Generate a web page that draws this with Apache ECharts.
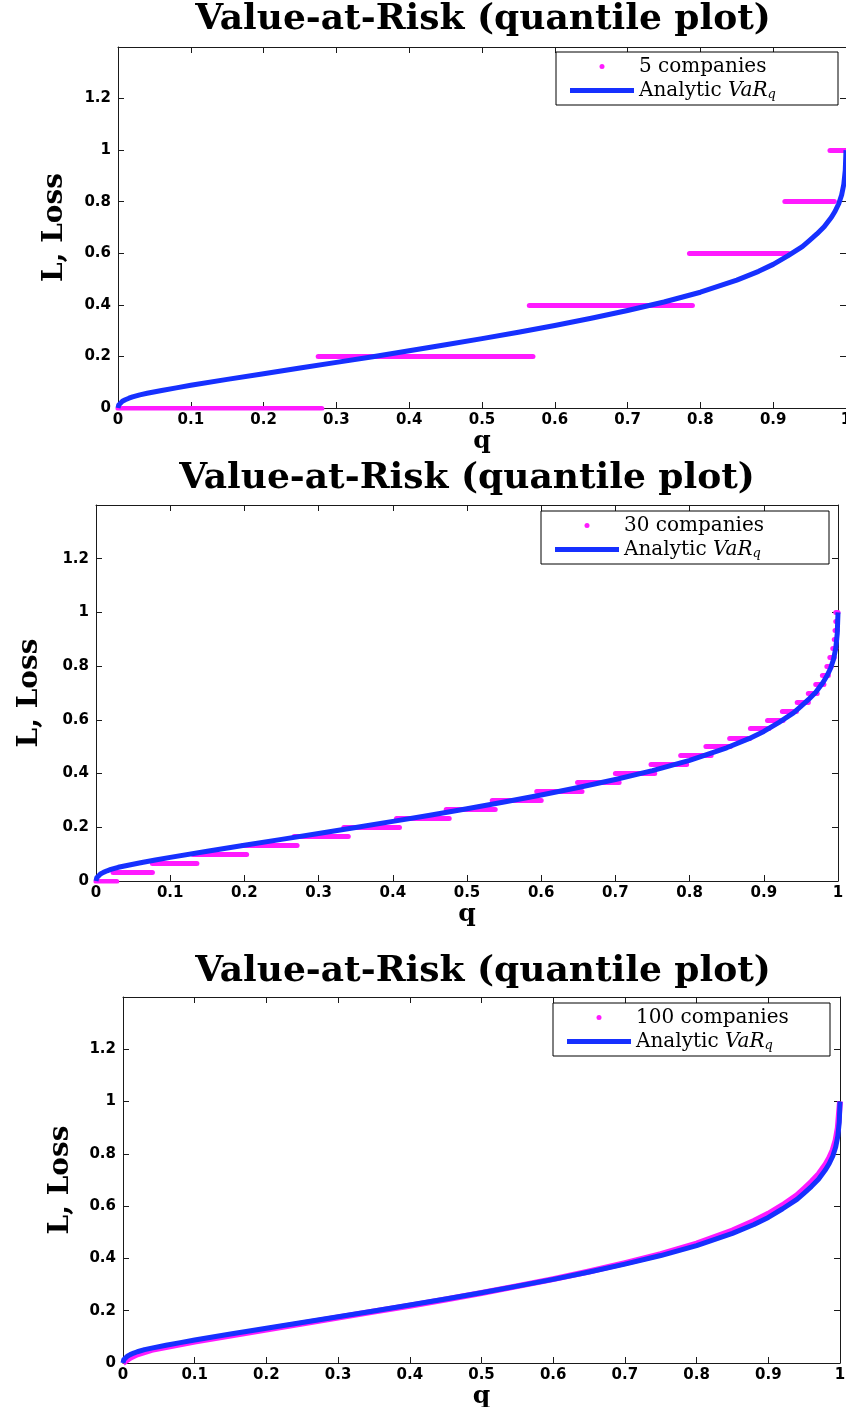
<!DOCTYPE html>
<html>
<head>
<meta charset="utf-8">
<script src="https://cdn.jsdelivr.net/npm/echarts@6/dist/echarts.min.js"></script>
<style>
html,body{margin:0;padding:0;background:#ffffff;overflow:hidden;}
#chart{width:846px;height:1407px;}
</style>
</head>
<body>
<div id="chart"></div>
<script>
// ---------- data ----------
const titleText = 'Value-at-Risk (quantile plot)';
const xName = 'q';
const yName = 'L, Loss';
const companyNames = ['5 companies', '30 companies', '100 companies'];
const analyticName = 'Analytic';

// analytic VaR_q curve (q, L)
const varQ = [0, 0.001, 0.003, 0.006, 0.01, 0.015, 0.02, 0.03, 0.04, 0.06, 0.08, 0.1, 0.15, 0.2, 0.25, 0.3, 0.35, 0.4, 0.45, 0.5, 0.55, 0.6, 0.65, 0.7, 0.75, 0.8, 0.85, 0.88, 0.9, 0.92, 0.94, 0.95, 0.96, 0.97, 0.98, 0.985, 0.99, 0.994, 0.997, 0.999, 1];
const varL = [0, 0.012, 0.019, 0.026, 0.032, 0.038, 0.043, 0.051, 0.057, 0.068, 0.078, 0.088, 0.111, 0.133, 0.155, 0.177, 0.199, 0.222, 0.245, 0.269, 0.294, 0.32, 0.348, 0.378, 0.411, 0.449, 0.496, 0.53, 0.557, 0.59, 0.626, 0.65, 0.675, 0.703, 0.74, 0.763, 0.792, 0.826, 0.868, 0.922, 1.0];

// 5 companies: empirical quantile steps
const levels5 = [0, 0.2, 0.4, 0.6, 0.8, 1.0];
const qStart5 = [0, 0.275, 0.565, 0.785, 0.916, 0.978];
const qEnd5   = [0.28, 0.57, 0.789, 0.921, 0.984, 1.0];

// 30 companies: empirical quantile steps
const levels30 = [0, 0.033, 0.067, 0.1, 0.133, 0.167, 0.2, 0.233, 0.267, 0.3, 0.333, 0.367, 0.4, 0.433, 0.467, 0.5, 0.533, 0.567, 0.6, 0.633, 0.667, 0.7, 0.733, 0.767, 0.8, 0.833, 0.867, 0.9, 0.933, 0.967, 1.0];
const qStart30 = [0, 0.023, 0.076, 0.131, 0.198, 0.267, 0.334, 0.405, 0.472, 0.534, 0.594, 0.649, 0.700, 0.748, 0.788, 0.822, 0.854, 0.882, 0.905, 0.925, 0.945, 0.960, 0.970, 0.979, 0.985, 0.989, 0.993, 0.995, 0.996, 0.997, 0.997];
const qEnd30   = [0.028, 0.076, 0.136, 0.203, 0.271, 0.340, 0.409, 0.476, 0.538, 0.600, 0.655, 0.705, 0.753, 0.796, 0.829, 0.855, 0.881, 0.907, 0.926, 0.944, 0.960, 0.972, 0.981, 0.987, 0.991, 0.995, 0.997, 0.998, 0.999, 0.999, 1.0];

// 100 companies: empirical quantile (fine steps, hugging the curve)
const q100 = [0, 0.005, 0.01, 0.02, 0.04, 0.06, 0.1, 0.15, 0.2, 0.25, 0.3, 0.35, 0.4, 0.45, 0.5, 0.55, 0.6, 0.65, 0.7, 0.75, 0.8, 0.85, 0.88, 0.9, 0.92, 0.94, 0.95, 0.96, 0.97, 0.98, 0.985, 0.99, 0.994, 0.997, 1];
const L100 = [0, 0.01, 0.02, 0.033, 0.05, 0.061, 0.082, 0.105, 0.128, 0.151, 0.174, 0.197, 0.219, 0.243, 0.268, 0.294, 0.321, 0.35, 0.382, 0.416, 0.457, 0.507, 0.543, 0.571, 0.604, 0.642, 0.667, 0.693, 0.722, 0.76, 0.784, 0.815, 0.853, 0.9, 1.0];

// axis ticks
const xMin = 0, xMax = 1, xStep = 0.1;
const yMin = 0, yMax = 1.4, yStep = 0.2;
const yLabelMax = 1.2;

// ---------- layout & style ----------
const MAGENTA = '#ff1aff';
const BLUE = '#1630ff';
const AXIS = '#1a1a1a';
const panels = [
  { grid: {left: 118, top: 47, width: 728, height: 361}, titleX: 483, titleTop: 2, yGap: 49, xGap: 17,
    legend: {left: 556, top: 52, textW: 185} },
  { grid: {left: 96, top: 505, width: 742, height: 376}, titleX: 467, titleTop: 461, yGap: 52, xGap: 17,
    legend: {left: 541, top: 511, textW: 191} },
  { grid: {left: 123, top: 997, width: 717, height: 366}, titleX: 483, titleTop: 954, yGap: 48, xGap: 19,
    legend: {left: 553, top: 1003, textW: 180} }
];

const tickFont = {fontFamily: 'DejaVu Sans', fontWeight: 'bold', fontSize: 15, color: '#000'};
const serifBold = {fontFamily: 'DejaVu Serif', fontWeight: 'bold', color: '#000'};

function segs(levels, qs, qe) {
  return levels.map((L, i) => ({coords: [[qs[i], L], [qe[i], L]]}));
}
function pairs(xs, ys) { return xs.map((x, i) => [x, ys[i]]); }

const option = {
  backgroundColor: '#ffffff',
  animation: false,
  title: [], grid: [], xAxis: [], yAxis: [], legend: [], series: []
};

panels.forEach((p, i) => {
  option.title.push({
    text: titleText, left: p.titleX, top: p.titleTop, textAlign: 'center', padding: 0,
    textStyle: Object.assign({fontSize: 36}, serifBold)
  });
  option.grid.push(Object.assign({containLabel: false, outerBoundsMode: 'none'}, p.grid));
  const common = {
    type: 'value', gridIndex: i, min: xMin, max: xMax, interval: xStep,
    axisLine: {show: true, onZero: false, lineStyle: {color: AXIS, width: 1}},
    axisTick: {show: true, inside: true, length: 6, lineStyle: {color: AXIS}},
    splitLine: {show: false}
  };
  option.xAxis.push(Object.assign({}, common, {
    position: 'bottom',
    axisLabel: Object.assign({margin: 5}, tickFont),
    name: xName, nameLocation: 'middle', nameGap: p.xGap,
    nameTextStyle: Object.assign({fontSize: 25}, serifBold)
  }));
  option.xAxis.push(Object.assign({}, common, {position: 'top', axisLabel: {show: false}}));
  const ycommon = {
    type: 'value', gridIndex: i, min: yMin, max: yMax, interval: yStep,
    axisLine: {show: true, onZero: false, lineStyle: {color: AXIS, width: 1}},
    axisTick: {show: true, inside: true, length: 6, lineStyle: {color: AXIS}},
    splitLine: {show: false}
  };
  option.yAxis.push(Object.assign({}, ycommon, {
    position: 'left',
    axisLabel: Object.assign({margin: 7, formatter: v => (v > yLabelMax + 1e-9 ? '' : String(+v.toFixed(1)))}, tickFont),
    name: yName, nameLocation: 'middle', nameGap: p.yGap,
    nameTextStyle: Object.assign({fontSize: 28}, serifBold)
  }));
  option.yAxis.push(Object.assign({}, ycommon, {position: 'right', axisLabel: {show: false}}));

  option.legend.push({
    orient: 'vertical', left: p.legend.left, top: p.legend.top,
    padding: [3, 14, 3, 14], itemGap: 1, itemWidth: 64, itemHeight: 5, itemTextGap: 5,
    backgroundColor: '#ffffff', borderColor: '#000', borderWidth: 1, borderRadius: 0,
    selectedMode: false,
    data: [
      {name: companyNames[i], icon: 'circle', itemStyle: {color: MAGENTA, borderWidth: 0}},
      {name: analyticName, icon: 'rect', itemStyle: {color: BLUE, borderWidth: 0}}
    ],
    formatter: name => name === analyticName ? '{r|Analytic }{i|VaR}{s|q}' : '{r|' + name + '}',
    textStyle: {
      width: p.legend.textW, lineHeight: 23,
      rich: {
        r: {fontFamily: 'DejaVu Serif', fontSize: 20, color: '#000', lineHeight: 23},
        i: {fontFamily: 'DejaVu Serif', fontStyle: 'italic', fontSize: 20, color: '#000', lineHeight: 23},
        s: {fontFamily: 'DejaVu Serif', fontStyle: 'italic', fontSize: 13, color: '#000', lineHeight: 23, padding: [9, 0, 0, 0]}
      }
    }
  });

  if (i === 0 || i === 1) {
    const data = i === 0 ? segs(levels5, qStart5, qEnd5) : segs(levels30, qStart30, qEnd30);
    option.series.push({
      type: 'lines', name: companyNames[i], coordinateSystem: 'cartesian2d',
      xAxisIndex: 2 * i, yAxisIndex: 2 * i, polyline: false,
      lineStyle: {color: MAGENTA, width: 5, cap: 'round', opacity: 1, curveness: 0},
      itemStyle: {color: MAGENTA},
      data: data, z: 2
    });
  } else {
    option.series.push({
      type: 'line', name: companyNames[i], xAxisIndex: 2 * i, yAxisIndex: 2 * i,
      data: pairs(q100, L100), symbol: 'none', smooth: false,
      lineStyle: {color: MAGENTA, width: 6, join: 'round'}, itemStyle: {color: MAGENTA}, z: 2
    });
  }
  option.series.push({
    type: 'line', name: analyticName, xAxisIndex: 2 * i, yAxisIndex: 2 * i,
    data: pairs(varQ, varL), symbol: 'none', smooth: false,
    lineStyle: {color: BLUE, width: 5, join: 'round'}, itemStyle: {color: BLUE}, z: 3
  });
});

const chart = echarts.init(document.getElementById('chart'), null, {renderer: 'canvas'});
chart.setOption(option);
</script>
</body>
</html>
